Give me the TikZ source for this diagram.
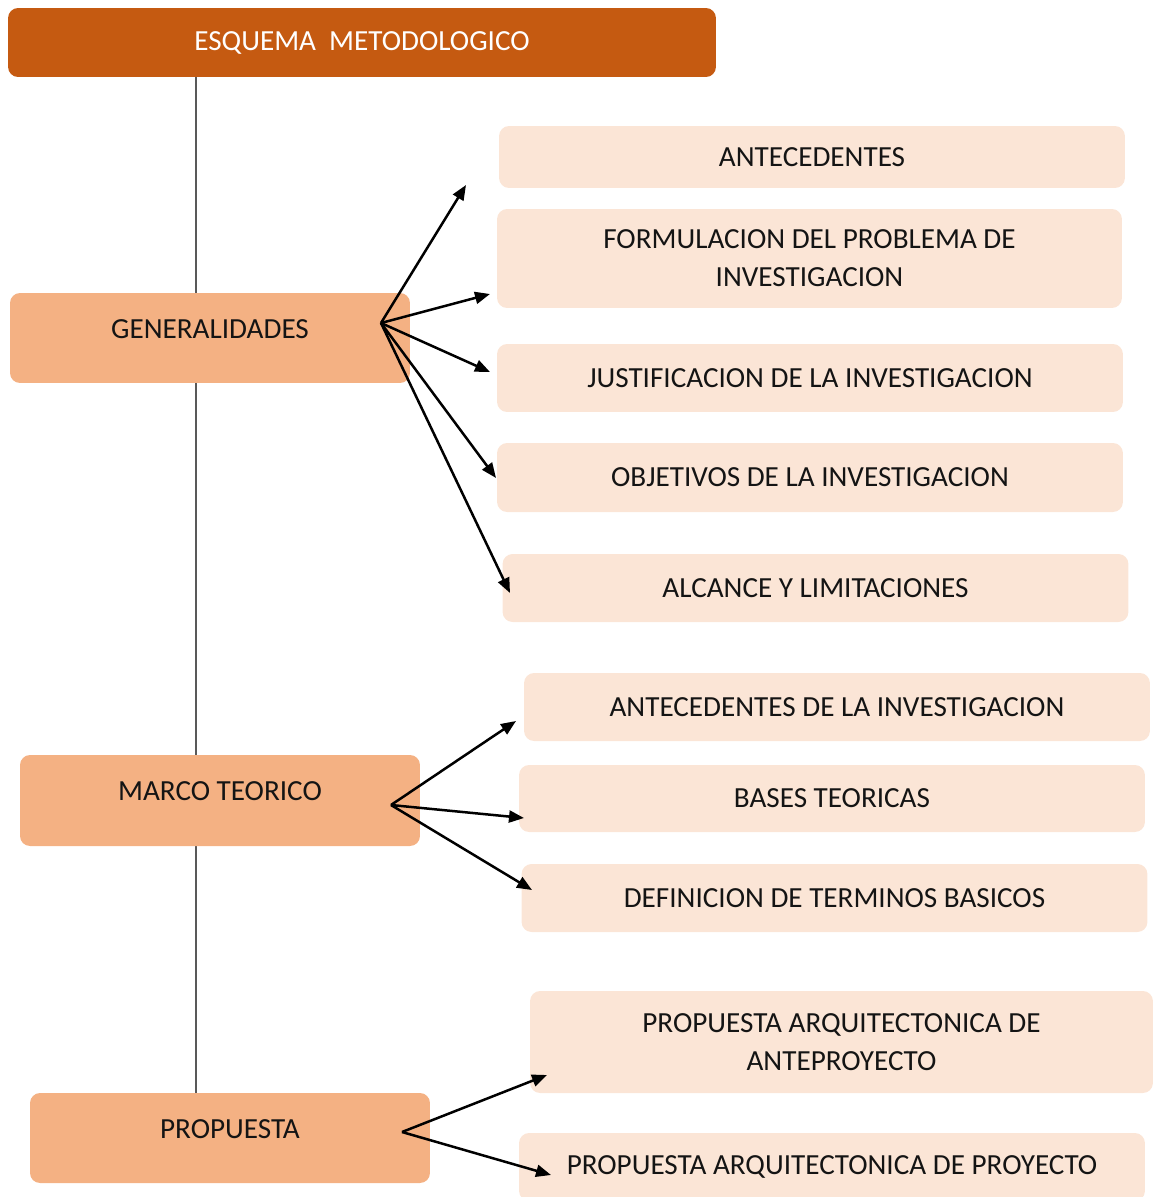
\documentclass[tikz,border=0pt]{standalone}
\usepackage{fontspec}
\setmainfont{Carlito}
\usepackage{xcolor}
\usetikzlibrary{arrows.meta,backgrounds}
\definecolor{rust}{HTML}{C55A11}
\definecolor{peach}{HTML}{F4B183}
\definecolor{blush}{HTML}{FBE5D6}
\tikzset{
    every node/.style={font=\fontsize{16.6}{21.6}\selectfont},
    headbox/.style={rectangle,rounded corners=0.2cm,fill=rust,text=white,
        minimum width=14.16cm,minimum height=1.38cm},
    stagebox/.style={rectangle,rounded corners=0.2cm,fill=peach,text=black!92,
        minimum width=8cm,minimum height=1.8cm,text height=0.3cm,text depth=0.3cm},
    topicbox/.style={rectangle,rounded corners=0.2cm,fill=blush,text=black!92,
        minimum width=12.52cm,minimum height=1.36cm,align=center},
    spine/.style={draw=black!65,line width=0.04cm}
}

\begin{document}
\begin{tikzpicture}[x=0.02cm,y=-0.02cm]
        \useasboundingbox (0,0) rectangle (1154,1197);
        % main column
        \node[headbox]  (head) at (362,42.5)  {ESQUEMA\ \ METODOLOGICO};
        \node[stagebox] (gen)  at (210,338)   {GENERALIDADES};
        \node[stagebox,minimum height=1.82cm] (marco) at (220,800.5) {MARCO TEORICO};
        \node[stagebox] (prop) at (230,1138)  {PROPUESTA};
        \coordinate (spine-x) at (196,0);
        \begin{pgfonlayer}{background}
            \draw[spine] (head.south -| spine-x) -- (prop.north -| spine-x);
        \end{pgfonlayer}
        % generalidades
        \node[topicbox,minimum height=1.24cm] (ante) at (812,157) {ANTECEDENTES};
        \node[topicbox,minimum width=12.5cm,minimum height=1.98cm] (form) at (809.5,258.5)
            {FORMULACION DEL PROBLEMA DE\\INVESTIGACION};
        \node[topicbox] (just) at (810,378)   {JUSTIFICACION DE LA INVESTIGACION};
        \node[topicbox,minimum height=1.38cm] (obj) at (810,477.5) {OBJETIVOS DE LA INVESTIGACION};
        \node[topicbox] (alc)  at (815.5,588) {ALCANCE Y LIMITACIONES};
        % marco teorico
        \node[topicbox] (antinv) at (837,707)   {ANTECEDENTES DE LA INVESTIGACION};
        \node[topicbox,minimum height=1.34cm] (bases) at (832,798.5) {BASES TEORICAS};
        \node[topicbox] (defin)  at (834.5,898) {DEFINICION DE TERMINOS BASICOS};
        % propuesta
        \node[topicbox,minimum width=12.46cm,minimum height=2.04cm] (anteproy) at (841.5,1042)
            {PROPUESTA ARQUITECTONICA DE\\ANTEPROYECTO};
        \node[topicbox] (proy) at (832,1167) {PROPUESTA ARQUITECTONICA DE PROYECTO};

        \coordinate (gen-o)   at (381,323);
        \coordinate (marco-o) at (391,805);
        \coordinate (prop-o)  at (402,1132);
        \coordinate (ante-in)     at (466,185);
        \coordinate (form-in)     at (490,294);
        \coordinate (just-in)     at (490,372);
        \coordinate (obj-in)      at (496,478);
        \coordinate (alc-in)      at (510,593);
        \coordinate (antinv-in)   at (516,721);
        \coordinate (bases-in)    at (524,818);
        \coordinate (defin-in)    at (532,890);
        \coordinate (anteproy-in) at (547,1075);
        \coordinate (proy-in)     at (551,1175);
        \begin{scope}[every path/.style={
                line width=0.05cm,
                -{Triangle[length=3mm,width=2.4mm]}
            }]
            \draw (gen-o) -- (ante-in);
            \draw (gen-o) -- (form-in);
            \draw (gen-o) -- (just-in);
            \draw (gen-o) -- (obj-in);
            \draw (gen-o) -- (alc-in);
            \draw (marco-o) -- (antinv-in);
            \draw (marco-o) -- (bases-in);
            \draw (marco-o) -- (defin-in);
            \draw (prop-o) -- (anteproy-in);
            \draw (prop-o) -- (proy-in);
        \end{scope}
    \end{tikzpicture}
\end{document}
